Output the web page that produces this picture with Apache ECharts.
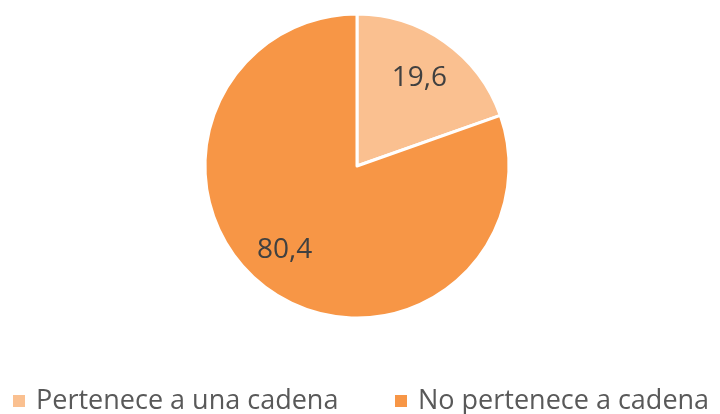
<!DOCTYPE html>
<html>
<head>
<meta charset="utf-8">
<script src="https://cdn.jsdelivr.net/npm/echarts@6/dist/echarts.min.js"></script>
<style>
  html, body { margin: 0; padding: 0; background: #fff; }
  #chart { width: 720px; height: 414px; }
</style>
</head>
<body>
<div id="chart"></div>
<script>
// datos del gráfico
const categorias = ['Pertenece a una cadena', 'No pertenece a cadena'];
const valores = [19.6, 80.4];
const colores = ['#FAC090', '#F79646'];

const datos = categorias.map((c, i) => ({
  name: c,
  value: valores[i],
  itemStyle: { color: colores[i] }
}));

// pequeños ajustes de posición de etiquetas
const ajusteEtiqueta = [[0, 0], [-10, -4]];

const estiloLeyenda = {
  top: 381,
  itemWidth: 14,
  itemHeight: 14,
  icon: 'rect',
  textStyle: { fontSize: 27, lineHeight: 30, color: '#595959', fontFamily: 'Open Sans', padding: [0, 0, 0, 5] }
};

const myChart = echarts.init(document.getElementById('chart'));
myChart.setOption({
  animation: false,
  textStyle: { fontFamily: 'Open Sans' },
  legend: [
    Object.assign({ data: [categorias[0]], left: 6 }, estiloLeyenda),
    Object.assign({ data: [categorias[1]], left: 388 }, estiloLeyenda)
  ],
  series: [
    {
      type: 'pie',
      center: [357, 166],
      radius: [0, 152],
      startAngle: 90,
      clockwise: true,
      label: { show: false },
      labelLine: { show: false },
      itemStyle: { borderColor: '#fff', borderWidth: 3 },
      emphasis: { disabled: true },
      data: datos
    },
    {
      // capa transparente solo para colocar las etiquetas
      type: 'pie',
      center: [357, 166],
      radius: [58, 152],
      startAngle: 90,
      clockwise: true,
      silent: true,
      legendHoverLink: false,
      itemStyle: { color: 'transparent', borderWidth: 0 },
      label: {
        show: true,
        position: 'inside',
        fontSize: 28,
        color: '#404040',
        fontFamily: 'Open Sans',
        formatter: p => String(p.value).replace('.', ',')
      },
      labelLine: { show: false },
      emphasis: { disabled: true },
      data: valores.map((v, i) => ({
        name: categorias[i] + ' ',
        value: v,
        label: { offset: ajusteEtiqueta[i] }
      }))
    }
  ]
});
</script>
</body>
</html>
